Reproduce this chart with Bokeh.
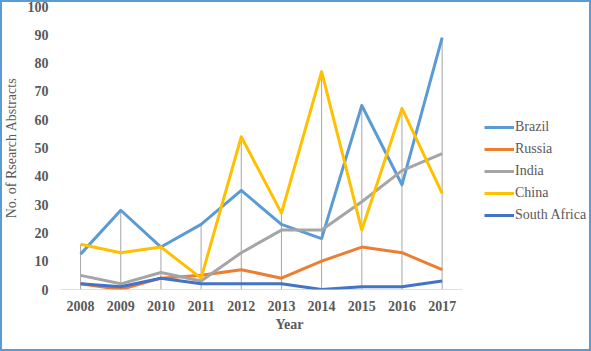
from bokeh.plotting import figure
from bokeh.models import Range1d, FixedTicker, Legend, LegendItem, Title
from bokeh.embed import file_html
from bokeh.resources import INLINE

years = [2008, 2009, 2010, 2011, 2012, 2013, 2014, 2015, 2016, 2017]
brazil = [12.5, 28, 15, 23, 35, 23, 18, 65, 37, 89]
russia = [2, 0, 4, 5, 7, 4, 10, 15, 13, 7]
india = [5, 2, 6, 3, 13, 21, 21, 31, 42, 48]
china = [16, 13, 15, 4, 54, 27, 77, 21, 64, 34]
south_africa = [2, 1, 4, 2, 2, 2, 0, 1, 1, 3]
series_names = ["Brazil", "Russia", "India", "China", "South Africa"]
colors = ["#5b9bd5", "#ed7d31", "#a5a5a5", "#ffc000", "#4472c4"]
y_ticks = [0, 10, 20, 30, 40, 50, 60, 70, 80, 90, 100]

FONT = "Liberation Serif"

W, H = 591, 351
LEFT, TOP, BOTTOM = 57, 6, 62
PX_PER_YEAR = 40.4          # layout: pixel width of one category slot
frame_w = W - LEFT
x_start = years[0] - 0.5
x_end = x_start + frame_w / PX_PER_YEAR   # frame extends under the legend

p = figure(width=W, height=H, output_backend="svg", toolbar_location=None,
           x_range=Range1d(x_start, x_end), y_range=Range1d(0, 100),
           min_border_left=LEFT, min_border_right=0, min_border_top=TOP,
           min_border_bottom=BOTTOM)
p.outline_line_color = None
p.xgrid.visible = False
p.ygrid.visible = False
p.border_fill_color = None
p.background_fill_color = None
p.styles = {"width": f"{W}px", "height": f"{H}px", "box-sizing": "border-box",
            "background": "white",
            "box-shadow": "inset 0 0 0 2px #5b9bd5"}

# axes
p.xaxis.ticker = FixedTicker(ticks=years)
p.yaxis.ticker = FixedTicker(ticks=y_ticks)
for ax in (p.xaxis, p.yaxis):
    ax.major_tick_line_color = None
    ax.minor_tick_line_color = None
    ax.major_tick_out = 0
    ax.major_tick_in = 0
    ax.minor_tick_out = 0
    ax.minor_tick_in = 0
    ax.axis_line_color = None
    ax.major_label_text_font = FONT
    ax.major_label_text_font_style = "bold"
    ax.major_label_text_font_size = "14px"
    ax.major_label_text_color = "#595959"
p.xaxis.major_label_standoff = 11
p.yaxis.major_label_standoff = 12
p.yaxis.axis_label = "No. of Rsearch Abstracts"
p.yaxis.axis_label_text_font = FONT
p.yaxis.axis_label_text_font_style = "normal"
p.yaxis.axis_label_text_font_size = "14px"
p.yaxis.axis_label_text_color = "#595959"
p.yaxis.axis_label_standoff = 6

# visible x-axis line spanning only the category slots
p.line([years[0] - 0.5, years[-1] + 0.5], [0, 0], line_color="#bfbfbf",
       line_width=1)

# drop lines
all_series = [brazil, russia, india, china, south_africa]
maxes = [max(vals) for vals in zip(*all_series)]
p.segment(x0=years, y0=[0] * len(years), x1=years, y1=maxes,
          line_color="#a6a6a6", line_width=1)

items = []
for name, vals, c in zip(series_names, all_series, colors):
    r = p.line(years, vals, line_color=c, line_width=3, line_join="round")
    items.append(LegendItem(label=name, renderers=[r]))

legend = Legend(items=items, location=(424, 64), padding=0, margin=0,
                spacing=2, glyph_width=30, glyph_height=20, label_height=20,
                label_standoff=1, border_line_color=None,
                background_fill_alpha=0,
                label_text_font=FONT, label_text_font_size="14px",
                label_text_color="#595959")
p.add_layout(legend)

p.add_layout(Title(text="Year", align="left", offset=215, standoff=2,
                   text_font=FONT, text_font_style="bold",
                   text_font_size="14px", text_color="#595959"), "below")

open("out.html", "w").write(file_html(p, INLINE))
